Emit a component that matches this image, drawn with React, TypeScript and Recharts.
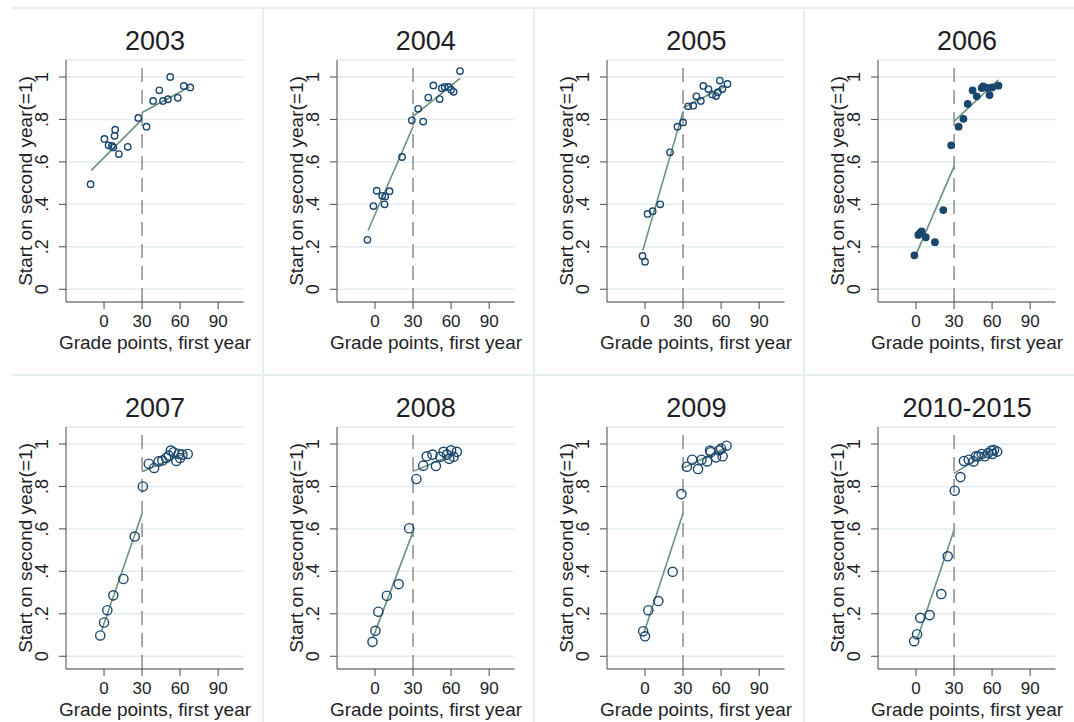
import { CartesianGrid, ComposedChart, Line, ReferenceLine, Scatter, XAxis, YAxis } from 'recharts';

// binned means: [grade points, share starting second year]
const pts2003 = [[-10.6, 0.495], [0.3, 0.708], [3.6, 0.678], [6.2, 0.675], [7.3, 0.668], [8.3, 0.723], [8.8, 0.752], [11.7, 0.637], [18.7, 0.671], [27, 0.807], [33.5, 0.766], [38.7, 0.887], [43.6, 0.937], [46.5, 0.887], [50.4, 0.895], [52.2, 1.0], [58.2, 0.902], [62.9, 0.958], [68, 0.951]];
const pts2004 = [[-6, 0.233], [-1.3, 0.392], [1.3, 0.464], [5.7, 0.44], [7.5, 0.4], [8, 0.437], [11.4, 0.462], [21.3, 0.623], [29, 0.796], [34, 0.85], [38, 0.79], [42, 0.903], [46, 0.96], [51, 0.896], [52.7, 0.947], [55, 0.953], [58, 0.953], [60, 0.94], [62, 0.93], [67, 1.028]];
const pts2005 = [[-2, 0.157], [0, 0.13], [2, 0.355], [6, 0.368], [12, 0.4], [19.7, 0.645], [25.6, 0.766], [30, 0.786], [34, 0.862], [38, 0.865], [40.5, 0.909], [44, 0.887], [46, 0.958], [50, 0.943], [53, 0.918], [56, 0.91], [57.5, 0.928], [59, 0.983], [61, 0.943], [65, 0.967]];
const pts2006 = [[-1.3, 0.16], [1.8, 0.256], [3, 0.264], [4.4, 0.272], [7.7, 0.245], [14.9, 0.222], [21.5, 0.373], [27.7, 0.678], [33.6, 0.766], [37.4, 0.803], [40.8, 0.873], [44.6, 0.937], [47.9, 0.909], [51.8, 0.948], [53, 0.956], [56.4, 0.948], [58, 0.915], [60, 0.951], [65, 0.959]];
const pts2007 = [[-3, 0.098], [0, 0.159], [2.6, 0.217], [7.3, 0.287], [15.3, 0.364], [24.2, 0.564], [30.6, 0.8], [35.3, 0.907], [39.5, 0.887], [43, 0.918], [46, 0.922], [49, 0.934], [51, 0.945], [52.7, 0.969], [55, 0.961], [57, 0.92], [59, 0.953], [60, 0.934], [61.8, 0.95], [66, 0.953]];
const pts2008 = [[-2, 0.068], [0.3, 0.12], [2.6, 0.21], [9.3, 0.285], [18.6, 0.34], [26.9, 0.603], [32.6, 0.835], [38, 0.898], [40.7, 0.942], [45.3, 0.95], [48, 0.896], [51.5, 0.94], [54, 0.963], [56.7, 0.95], [58.5, 0.93], [60, 0.97], [62, 0.94], [64.5, 0.963]];
const pts2009 = [[-1.5, 0.118], [0, 0.094], [2.6, 0.217], [10.5, 0.26], [21.8, 0.398], [28.7, 0.764], [33, 0.893], [37.2, 0.926], [41.8, 0.882], [44.6, 0.926], [49, 0.918], [51.3, 0.969], [51.8, 0.961], [56, 0.937], [58.5, 0.97], [60, 0.978], [61.2, 0.942], [64.3, 0.992]];
const pts2010 = [[-1.5, 0.071], [0.8, 0.104], [3.3, 0.181], [10.7, 0.194], [19.9, 0.293], [25, 0.471], [30.5, 0.78], [35, 0.844], [37.8, 0.92], [41.6, 0.926], [45.4, 0.918], [47.2, 0.942], [49.2, 0.942], [51.8, 0.953], [54.3, 0.942], [56.9, 0.957], [59.4, 0.969], [60.2, 0.953], [61.5, 0.972], [64, 0.964]];

// linear fits either side of the 30-point cutoff: [x0, y0, x1, y1]
const fit2003 = [[-10.1, 0.56, 30, 0.8], [30, 0.833, 67.3, 0.953]];
const fit2004 = [[-5.5, 0.277, 30, 0.767], [30, 0.815, 67, 0.994]];
const fit2005 = [[-1.8, 0.182, 30, 0.838], [30, 0.854, 63.6, 0.959]];
const fit2006 = [[-0.5, 0.157, 30, 0.579], [30, 0.791, 65, 0.987]];
const fit2007 = [[-2, 0.12, 30, 0.671], [30, 0.869, 64.6, 0.957]];
const fit2008 = [[-1.5, 0.09, 30, 0.587], [30, 0.871, 64.6, 0.957]];
const fit2009 = [[-1, 0.107, 30, 0.674], [30, 0.887, 63.6, 0.981]];
const fit2010 = [[0.8, 0.079, 30, 0.595], [30, 0.863, 63.3, 0.981]];

const titles = ['2003', '2004', '2005', '2006', '2007', '2008', '2009', '2010-2015'];
const cutoff = 30;
const xTicks = [0, 30, 60, 90];
const yTicks = [0, 0.2, 0.4, 0.6, 0.8, 1];

const FONT = '"Liberation Sans", Arial, sans-serif';
const NAVY = '#1a476f';
const FIT = '#6a927c';
const AXIS = '#4a4a4a';
const TEXT = '#1e1e28';
const W = 270;
const H = 361;

const yFmt = (v: number) => (v === 0 ? '0' : v === 1 ? '1' : String(v).replace('0.', '.'));

function XTick({ x, payload }: any) {
  return (
    <text x={x} y={327} textAnchor="middle" fontSize={17} fill={TEXT} fontFamily={FONT}>
      {payload.value}
    </text>
  );
}

function YTick({ y, payload }: any) {
  return (
    <text x={48} y={y} transform={`rotate(-90 48 ${y})`} textAnchor="middle" fontSize={18} fill={TEXT} fontFamily={FONT}>
      {yFmt(payload.value)}
    </text>
  );
}

type PanelProps = {
  title: string;
  pts: number[][];
  fits: number[][];
  r: number;
  filled?: boolean;
  left: number;
  top: number;
};

function Panel({ title, pts, fits, r, filled, left, top }: PanelProps) {
  const data = pts.map(([x, y]) => ({ x, y }));
  return (
    <div style={{ position: 'absolute', left, top, width: W, height: H }}>
      <div style={{ position: 'absolute', left: 0, width: 310, top: 26, textAlign: 'center', fontSize: 27, fontFamily: FONT, color: TEXT, lineHeight: '31px' }}>
        {title}
      </div>
      <ComposedChart width={W} height={H} margin={{ top: 60, right: 26.5, bottom: 9, left: 0 }}>
        <CartesianGrid vertical={false} stroke="#e2ebef" strokeWidth={1.5} />
        <XAxis
          type="number"
          dataKey="x"
          domain={[-30, 110]}
          ticks={xTicks}
          allowDataOverflow
          height={50}
          stroke={AXIS}
          tickSize={7}
          tick={<XTick />}
          label={{ content: () => (
            <text x={155} y={349} textAnchor="middle" fontSize={19} fill={TEXT} fontFamily={FONT}>Grade points, first year</text>
          ) }}
        />
        <YAxis
          type="number"
          dataKey="y"
          domain={[-0.06, 1.08]}
          ticks={yTicks}
          allowDataOverflow
          width={66}
          stroke={AXIS}
          tickSize={7}
          tick={<YTick />}
          label={{ content: () => (
            <text x={32} y={181} transform="rotate(-90 32 181)" textAnchor="middle" fontSize={19} fill={TEXT} fontFamily={FONT}>Start on second year(=1)</text>
          ) }}
        />
        <ReferenceLine x={cutoff} stroke="#8c8c8c" strokeWidth={1.5} strokeDasharray="14 8" />
        <Scatter
          data={data}
          isAnimationActive={false}
          shape={(p: any) => (
            <circle cx={p.cx} cy={p.cy} r={r} fill={filled ? NAVY : 'none'} stroke={NAVY} strokeWidth={1.4} />
          )}
        />
        {fits.map(([x0, y0, x1, y1], i) => (
          <Line
            key={i}
            data={[{ x: x0, y: y0 }, { x: x1, y: y1 }]}
            dataKey="y"
            stroke={FIT}
            strokeWidth={1.6}
            dot={false}
            activeDot={false}
            isAnimationActive={false}
          />
        ))}
      </ComposedChart>
    </div>
  );
}

const panels = [
  { pts: pts2003, fits: fit2003 },
  { pts: pts2004, fits: fit2004 },
  { pts: pts2005, fits: fit2005 },
  { pts: pts2006, fits: fit2006, filled: true },
  { pts: pts2007, fits: fit2007 },
  { pts: pts2008, fits: fit2008 },
  { pts: pts2009, fits: fit2009 },
  { pts: pts2010, fits: fit2010 },
];

export default function App() {
  const sep = '#e6eef2';
  return (
    <div style={{ position: 'absolute', left: 0, top: 0, width: 1074, height: 722, background: '#fff', overflow: 'hidden' }}>
      <div style={{ position: 'absolute', left: 12, top: 7, width: 1062, height: 2, background: sep }} />
      <div style={{ position: 'absolute', left: 12, top: 374, width: 1062, height: 2, background: sep }} />
      {[262, 533, 803].map((x) => (
        <div key={x} style={{ position: 'absolute', left: x, top: 7, width: 2, height: 715, background: sep }} />
      ))}
      {panels.map((p, i) => (
        <Panel
          key={titles[i]}
          title={titles[i]}
          pts={p.pts}
          fits={p.fits}
          filled={p.filled}
          r={i < 4 ? 3.2 : 4.6}
          left={(i % 4) * 270.7}
          top={Math.floor(i / 4) * 367}
        />
      ))}
    </div>
  );
}
